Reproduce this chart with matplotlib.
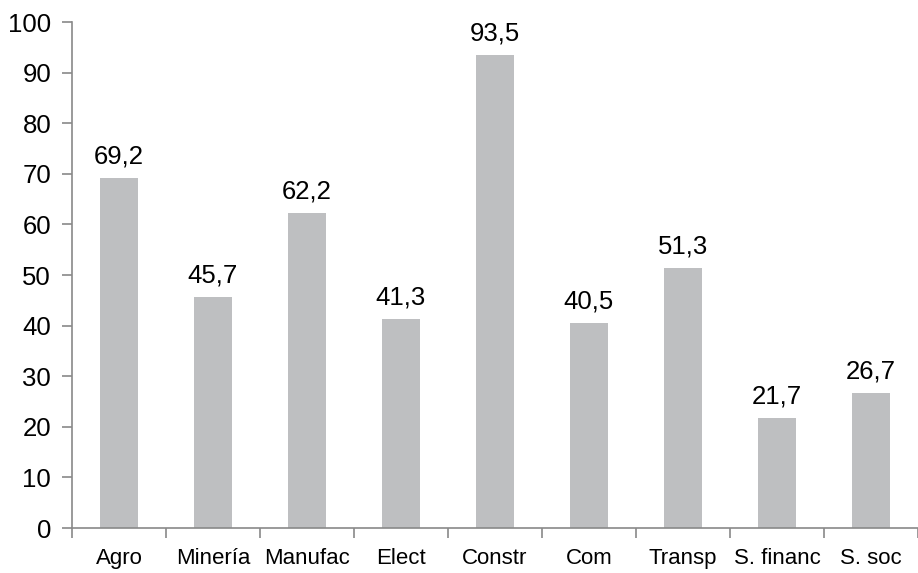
import matplotlib
matplotlib.use("Agg")
import matplotlib.pyplot as plt
import numpy as np

categories = ["Agro", "Minería", "Manufac", "Elect", "Constr", "Com", "Transp", "S. financ", "S. soc"]
values = [69.2, 45.7, 62.2, 41.3, 93.5, 40.5, 51.3, 21.7, 26.7]
y_ticks = list(range(0, 101, 10))

plt.rcParams["font.family"] = ["Liberation Sans", "DejaVu Sans"]

bar_color = "#BEBFC1"
axis_color = "#898989"

fig = plt.figure(figsize=(9.18, 5.73), dpi=100)
ax = fig.add_axes([0.0784, 0.0785, 0.9216, 0.8831])

x = np.arange(len(categories))
bars = ax.bar(x, values, width=0.4, color=bar_color, zorder=2)

# data labels with comma decimals
for xi, v in zip(x, values):
    ax.annotate(f"{v:.1f}".replace(".", ","), (xi, v), xytext=(0, 7),
                textcoords="offset points", ha="center", va="bottom",
                fontsize=18.5, color="#000000")

ax.set_xlim(-0.5, len(categories) - 0.5)
ax.set_ylim(0, 100)
ax.set_yticks(y_ticks)
ax.set_yticklabels([str(t) for t in y_ticks], fontsize=18.5)

ax.set_xticks(x)
ax.set_xticklabels(categories, fontsize=16)
ax.tick_params(axis="x", which="major", length=0, pad=14.5)
# tick marks sit between categories
ax.set_xticks(np.arange(-0.5, len(categories) + 0.5, 1), minor=True)
ax.tick_params(axis="x", which="minor", length=7, width=1.2, color=axis_color, direction="out")
ax.tick_params(axis="y", length=7, width=1.2, color=axis_color, direction="out", pad=8)

for side in ["top", "right"]:
    ax.spines[side].set_visible(False)
for side in ["left", "bottom"]:
    ax.spines[side].set_color(axis_color)
    ax.spines[side].set_linewidth(1.2)

fig.savefig("out.png", dpi=100)
